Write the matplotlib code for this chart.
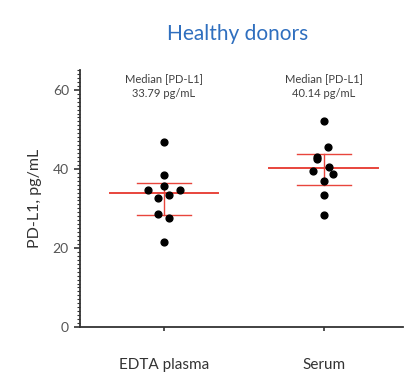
import matplotlib.pyplot as plt
from matplotlib.ticker import MultipleLocator

plt.rcParams['font.family'] = ['Lato', 'DejaVu Sans']

groups = ['EDTA plasma', 'Serum']
medians = [33.79, 40.14]
q_low = [28.4, 35.9]
q_high = [36.3, 43.7]

edta = [46.7, 38.5, 35.7, 34.7, 34.7, 33.5, 32.7, 28.7, 27.6, 21.5]
edta_jitter = [0, 0, 0, -0.10, 0.10, 0.03, -0.035, -0.035, 0.03, 0]
serum = [52.1, 45.6, 43.1, 42.4, 40.4, 39.4, 38.7, 36.9, 33.4, 28.4]
serum_jitter = [0, 0.025, -0.04, -0.04, 0.03, -0.07, 0.06, 0, 0, 0]

values = [edta, serum]
jitters = [edta_jitter, serum_jitter]

fig = plt.figure(figsize=(4.09, 3.74), dpi=100)
ax = fig.add_axes([0.1956, 0.1257, 0.789, 0.687])

red = '#e8453c'
for i, (vals, jit) in enumerate(zip(values, jitters)):
    pos = i + 1
    xs = [pos + j for j in jit]
    # median and quartile bars
    ax.plot([pos - 0.34, pos + 0.34], [medians[i], medians[i]], color=red, lw=1.4, zorder=2)
    ax.plot([pos - 0.17, pos + 0.17], [q_low[i], q_low[i]], color=red, lw=1.0, zorder=2)
    ax.plot([pos - 0.17, pos + 0.17], [q_high[i], q_high[i]], color=red, lw=1.0, zorder=2)
    ax.plot([pos, pos], [q_low[i], q_high[i]], color=red, lw=1.0, zorder=2)
    ax.scatter(xs, vals, s=24, color='black', zorder=3)
    ax.text(pos, 61.0, f'Median [PD-L1]\n{medians[i]:.2f} pg/mL', ha='center', va='center',
            fontsize=8, color='#404040', linespacing=1.5)

ax.set_xlim(0.475, 2.494)
ax.set_ylim(0, 65)
ax.set_xticks([1, 2])
ax.set_xticklabels(groups)
ax.set_yticks([0, 20, 40, 60])
ax.yaxis.set_minor_locator(MultipleLocator(1))

for side in ['top', 'right']:
    ax.spines[side].set_visible(False)
for side in ['left', 'bottom']:
    ax.spines[side].set_linewidth(1.3)
    ax.spines[side].set_color('#333333')

ax.tick_params(axis='y', which='major', length=4, width=1.2, color='#333333',
               labelsize=10, labelcolor='#555555', pad=4)
ax.tick_params(axis='y', which='minor', length=2.5, width=0.8, color='#333333')
ax.tick_params(axis='x', which='major', length=3, width=1.2, color='#333333',
               labelsize=11, labelcolor='#333333', pad=19)

ax.set_ylabel('PD-L1, pg/mL', fontsize=11.5, color='#333333', labelpad=8)
fig.text(0.582, 0.908, 'Healthy donors', ha='center', va='center',
         fontsize=15, color='#2f6fbf')

fig.savefig('out.png', dpi=100)
